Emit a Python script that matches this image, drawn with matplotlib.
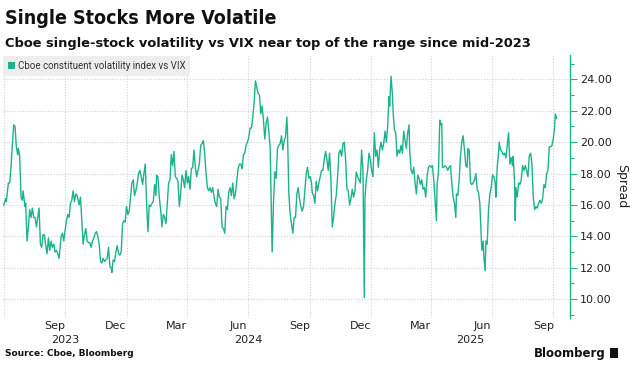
import pandas as pd
import matplotlib
matplotlib.use('Agg')
import matplotlib.pyplot as plt
import matplotlib.dates as mdates
import matplotlib.transforms as mtransforms
from matplotlib.patches import Patch, Rectangle
from matplotlib.ticker import MultipleLocator, FormatStrFormatter

# Cboe constituent volatility index minus VIX
# x = days after 2023-07-01
start = pd.Timestamp('2023-07-01')

days_2023 = [0, 3, 4, 7, 9, 11, 12, 15, 17, 19, 21, 22, 24, 26, 28, 29, 32, 33, 35, 37,
             39, 41, 43, 45, 47, 49, 51, 53, 55, 57, 59, 61, 63, 65, 67, 69, 71, 73, 75, 77,
             79, 81, 83, 86, 88, 90, 92, 94, 96, 98, 100, 102, 104, 106, 108, 110,
             113, 115, 117, 119, 121, 123, 125, 127, 129, 131, 133, 135, 137, 139, 141, 143,
             145, 147, 149, 151, 153, 155, 157, 159, 161, 162, 164, 166, 168, 170, 172, 174,
             176, 178, 180, 182]
spread_2023 = [16.0, 16.4, 16.2, 17.4, 17.4, 18.4, 19.2, 21.1, 21.0, 19.7, 19.2, 19.6, 19.1, 16.5, 16.3, 16.9, 15.9, 16.1, 13.7, 14.6,
               15.7, 15.2, 15.8, 15.2, 15.2, 14.6, 15.2, 15.8, 13.5, 13.3, 14.1, 14.1, 13.4, 12.9, 13.9, 13.1, 13.7, 13.3, 13.5, 13.0,
               13.1, 12.9, 12.6, 14.0, 14.2, 13.7, 14.4, 15.0, 15.4, 15.2, 16.1, 16.3, 16.9, 16.2, 16.7, 16.6,
               16.0, 16.5, 15.0, 13.5, 14.1, 14.5, 13.7, 13.6, 13.6, 13.3, 13.7, 13.9, 14.2, 14.3, 14.0, 13.5,
               12.4, 12.3, 12.6, 12.4, 12.5, 12.6, 13.3, 12.1, 12.0, 11.7, 12.5, 12.4, 13.0, 13.4, 12.9, 12.8,
               13.0, 14.8, 15.0, 14.9]

days_2024 = [184, 186, 188, 190, 192, 194, 196, 198, 200, 202, 204, 206, 208, 210, 212, 214, 216, 218, 220, 222,
             224, 226, 228, 229, 231, 233, 235, 237, 239, 241, 243, 245, 247, 249, 251, 253, 255, 257, 259, 261,
             263, 265, 267, 269, 271, 273, 275, 277, 279, 281, 283, 285, 287, 289, 291, 293, 295, 297, 299, 301,
             303, 305, 307, 309, 311, 313, 315, 317, 319, 321, 323, 325, 327, 329, 331, 333, 335, 337, 339, 341,
             343, 345, 347, 349, 351, 353, 355, 357, 359, 361, 363, 365, 367, 369, 371, 373, 375, 377, 379, 381,
             383, 385, 387, 389, 391, 393, 395, 397, 399, 402, 404, 406, 408, 410, 412, 414, 416, 418, 420, 422,
             424, 425, 427, 429, 431, 433, 435, 437, 439, 441, 443, 445, 447, 449, 451, 453, 455, 457, 459, 461,
             462, 464, 466, 468, 470, 472, 474, 476, 478, 480, 482, 484, 486, 488, 490, 492, 494, 496, 498, 500,
             502, 504, 506, 508, 510, 512, 514, 516, 518, 520, 522, 524, 526, 528, 530, 532, 534, 536, 538, 540,
             541, 543, 545, 547, 549]
spread_2024 = [15.9, 15.4, 15.6, 16.5, 17.4, 17.6, 16.6, 16.9, 17.4, 18.0, 18.2, 17.8, 17.3, 18.0, 18.6, 16.1, 14.3, 16.0, 15.9, 16.1,
               16.2, 17.3, 16.6, 17.9, 17.8, 16.5, 15.7, 14.6, 15.4, 15.2, 14.8, 16.1, 17.4, 17.6, 19.2, 18.5, 19.4, 17.8, 17.7, 17.5,
               15.9, 16.7, 17.9, 17.6, 17.1, 18.2, 17.4, 17.8, 17.0, 18.3, 18.4, 19.5, 18.4, 17.8, 18.2, 18.6, 19.8, 19.9, 20.1, 19.3,
               18.0, 17.1, 16.9, 17.1, 16.8, 17.1, 16.5, 16.1, 15.9, 17.0, 16.5, 16.4, 14.6, 14.5, 14.2, 15.9, 15.7, 16.8, 17.1, 16.6,
               17.4, 16.4, 16.7, 17.5, 18.3, 18.6, 18.6, 18.3, 19.2, 19.3, 19.8, 20.0, 20.3, 20.9, 20.9, 21.6, 22.5, 23.9, 23.5, 23.1,
               23.0, 21.8, 22.3, 21.4, 20.2, 21.2, 21.6, 20.7, 19.7, 13.0, 16.1, 18.1, 17.7, 19.6, 19.8, 19.9, 20.4, 19.5, 20.1, 20.3,
               21.6, 20.6, 16.7, 15.4, 14.8, 14.2, 15.2, 15.2, 16.7, 17.1, 16.4, 15.9, 15.6, 15.9, 16.9, 18.0, 18.4, 17.7, 17.8, 17.4,
               16.8, 16.6, 16.1, 17.5, 16.9, 17.4, 17.8, 18.2, 18.2, 18.9, 19.4, 18.9, 18.2, 19.3, 17.6, 14.6, 15.2, 16.1, 16.6, 17.8,
               19.3, 19.5, 19.1, 19.9, 20.0, 18.9, 17.0, 16.9, 16.0, 16.4, 17.0, 16.5, 16.9, 18.1, 17.8, 17.6, 17.4, 19.5, 18.2, 10.1,
               16.5, 17.6, 18.2, 19.3, 18.9]

days_2025 = [551, 553, 555, 557, 559, 561, 563, 565, 567, 569, 571, 573, 575, 577, 578, 580, 582, 583, 585, 587,
             589, 591, 593, 595, 597, 599, 601, 603, 605, 607, 608, 610, 612, 614, 616, 618, 620, 622, 624, 626,
             628, 630, 632, 634, 636, 638, 640, 642, 644, 646, 648, 649, 651, 653, 654, 656, 657, 659, 661, 663,
             665, 667, 669, 671, 673, 675, 677, 678, 680, 682, 684, 686, 688, 690, 692, 694,
             695, 697, 699, 701, 703, 705, 707, 709, 711, 713, 715, 716, 718, 719, 721, 722, 724, 726, 728, 730,
             732, 734, 736, 737, 739, 741, 742, 744, 746, 748, 750, 752, 754, 756, 758, 760, 762, 763, 765, 766,
             767, 769, 771, 773, 775, 777, 779, 781, 783, 785, 787, 789, 791, 793, 795, 797, 799, 801, 803, 805,
             807, 809, 811, 813, 815, 817, 819, 821, 823, 825, 826, 828]
spread_2025 = [18.2, 17.8, 20.6, 19.1, 19.5, 18.4, 19.5, 20.0, 19.5, 19.9, 20.7, 20.0, 21.0, 22.9, 22.3, 24.2, 23.1, 22.0, 20.8, 20.6,
               19.1, 19.5, 19.3, 19.8, 19.3, 20.7, 20.1, 19.6, 20.6, 21.1, 19.5, 18.2, 18.0, 18.4, 17.4, 16.7, 17.9, 17.7, 17.3, 17.6,
               17.0, 17.1, 16.5, 17.8, 18.4, 18.5, 18.4, 18.5, 17.6, 16.3, 15.0, 17.4, 18.0, 21.4, 21.1, 21.2, 18.4, 18.4, 18.5, 18.4,
               18.2, 18.4, 18.5, 17.4, 16.5, 16.1, 15.2, 16.7, 16.6, 17.6, 19.1, 20.0, 20.4, 19.5, 18.5, 18.4,
               19.6, 19.5, 17.4, 17.3, 17.4, 17.6, 18.0, 17.0, 16.8, 16.1, 14.0, 13.1, 13.7, 12.7, 11.8, 13.7, 13.5, 15.7, 16.7, 17.1,
               17.9, 17.8, 17.4, 16.5, 18.4, 19.3, 20.0, 19.5, 19.4, 19.2, 19.3, 19.0, 19.8, 20.6, 18.6, 19.0, 18.5, 19.1, 17.4, 15.0,
               17.1, 16.5, 17.4, 17.3, 17.6, 18.5, 18.2, 18.5, 18.2, 17.8, 19.1, 19.3, 18.6, 16.5, 15.7, 15.9, 15.8, 16.1, 16.3, 16.1,
               16.4, 17.3, 17.1, 18.0, 18.2, 19.7, 19.7, 19.8, 20.2, 21.0, 21.8, 21.5]

days = days_2023 + days_2024 + days_2025
spread = spread_2023 + spread_2024 + spread_2025
dates = start + pd.to_timedelta(days, unit='D')

line_color = '#1bb38d'
grid_color = '#d2d2d2'
text_color = '#222222'

fig = plt.figure(figsize=(6.3, 3.76), dpi=100)
ax = fig.add_axes([3 / 630, 1 - 318 / 376, 567 / 630, 263 / 376])

ax.plot(dates, spread, color=line_color, lw=1.0, label='Cboe constituent volatility index vs VIX')

ax.set_xlim(start - pd.Timedelta(days=1), start + pd.Timedelta(days=848))
ax.set_ylim(8.8, 25.55)

# right hand value axis
ax.yaxis.tick_right()
ax.yaxis.set_label_position('right')
ax.yaxis.set_major_locator(MultipleLocator(2))
ax.yaxis.set_minor_locator(MultipleLocator(1))
ax.yaxis.set_major_formatter(FormatStrFormatter('%.2f'))
ax.tick_params(axis='y', which='major', length=5, width=0.8, color=line_color,
               labelsize=8, labelcolor=text_color, pad=2)
ax.tick_params(axis='y', which='minor', length=3, width=0.8, color=line_color)
ax.set_ylabel('Spread', rotation=270, fontsize=9, color=text_color, labelpad=12)

for s in ['top', 'left', 'bottom']:
    ax.spines[s].set_visible(False)
ax.spines['right'].set_color(line_color)
ax.spines['right'].set_linewidth(1.0)

# gridlines at quarter boundaries, month names half a month earlier
ax.xaxis.set_major_locator(mdates.MonthLocator(bymonth=[1, 4, 7, 10]))
ax.xaxis.set_major_formatter(plt.NullFormatter())
ax.xaxis.set_minor_locator(mdates.MonthLocator(bymonth=[3, 6, 9, 12], bymonthday=16))
ax.xaxis.set_minor_formatter(mdates.DateFormatter('%b'))
ax.tick_params(axis='x', which='both', length=0, labelsize=8, labelcolor=text_color, pad=2)

ax.grid(True, which='major', linestyle=(0, (1, 1.5)), color=grid_color, lw=0.8)

# year labels centred on the visible part of each year
x0, x1 = ax.get_xlim()
trans = mtransforms.blended_transform_factory(ax.transData, ax.transAxes)
for yr in [2023, 2024, 2025]:
    lo = max(x0, mdates.date2num(pd.Timestamp(f'{yr}-01-01')))
    hi = min(x1, mdates.date2num(pd.Timestamp(f'{yr + 1}-01-01')))
    ax.text((lo + hi) / 2, -0.083, str(yr), transform=trans, ha='center', va='center',
            fontsize=8, color=text_color)

leg = ax.legend(handles=[Patch(facecolor=line_color, edgecolor='none',
                               label='Cboe constituent volatility index vs VIX')],
                loc='upper left', bbox_to_anchor=(0, 0.995), borderaxespad=0.0,
                frameon=True, fancybox=False, facecolor='#eeeeee', edgecolor='none',
                framealpha=1, handlelength=0.7, handleheight=0.7, handletextpad=0.3,
                borderpad=0.5, prop={'family': 'Roboto', 'size': 7})
for t in leg.get_texts():
    t.set_color('#333333')

fig.text(5 / 630, 1 - 18 / 376, 'Single Stocks More Volatile', fontsize=14, weight='bold',
         family='DejaVu Sans', stretch='condensed', va='center', color='#111111')
fig.text(5 / 630, 1 - 44 / 376, 'Cboe single-stock volatility vs VIX near top of the range since mid-2023',
         fontsize=9.4, weight='bold', va='center', color='#111111')
fig.text(5 / 630, 1 - 353 / 376, 'Source: Cboe, Bloomberg', fontsize=6.5, weight='bold',
         va='center', color='#111111')
fig.text(606 / 630, 1 - 353 / 376, 'Bloomberg', fontsize=8.5, weight='semibold', ha='right',
         va='center', color='#111111')
fig.add_artist(Rectangle((610 / 630, 1 - 358 / 376), 8 / 630, 10 / 376,
                         transform=fig.transFigure, facecolor='#111111', edgecolor='none'))

fig.savefig('out.png', dpi=100)
